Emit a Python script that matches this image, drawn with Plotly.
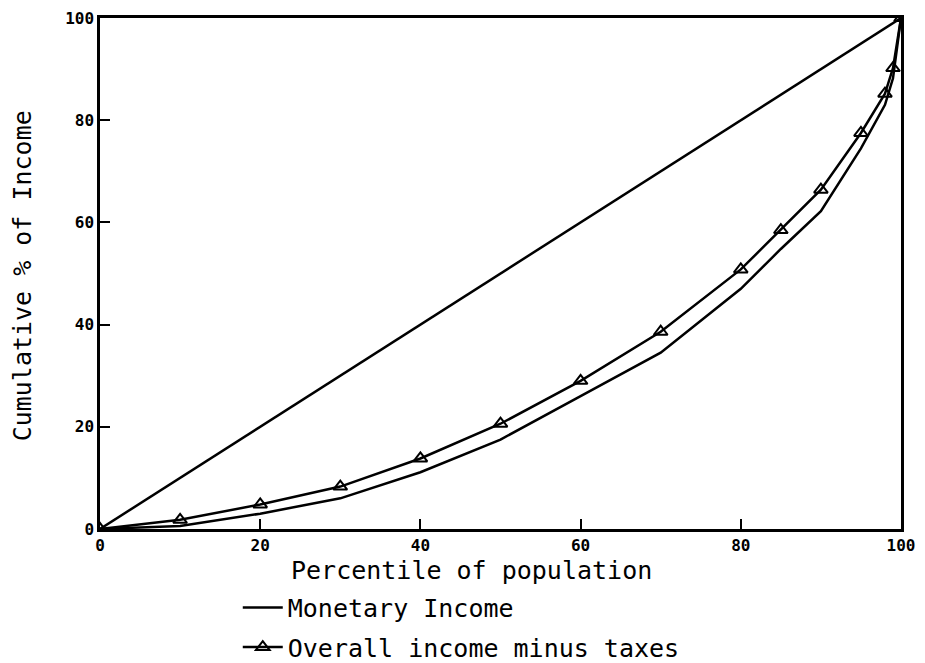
import plotly.graph_objects as go

percentile = [0, 10, 20, 30, 40, 50, 60, 70, 80, 85, 90, 95, 98, 99, 100]
monetary_income = [0, 0.6, 3.0, 6.0, 11.1, 17.5, 26.0, 34.5, 47.0, 54.8, 62.2, 74.5, 83.0, 88.2, 100]
overall_minus_taxes = [0, 1.8, 4.8, 8.3, 13.8, 20.6, 29.0, 38.6, 50.8, 58.5, 66.4, 77.5, 85.2, 90.2, 100]
equality_x = [0, 100]
equality_y = [0, 100]
tick_vals = [0, 20, 40, 60, 80, 100]

FONT = "DejaVu Sans Mono"

fig = go.Figure()
fig.add_trace(go.Scatter(x=equality_x, y=equality_y, mode="lines",
                         line=dict(color="black", width=2.5), showlegend=False))
fig.add_trace(go.Scatter(x=percentile, y=monetary_income, mode="lines",
                         name="Monetary Income", legendgroup="a",
                         line=dict(color="black", width=2.5)))
fig.add_trace(go.Scatter(x=percentile, y=overall_minus_taxes, mode="lines+markers",
                         name="Overall income minus taxes", legendgroup="b",
                         line=dict(color="black", width=2.5),
                         marker=dict(symbol="triangle-up-open", size=12,
                                     color="black", line=dict(width=2, color="black"))))

axis_common = dict(
    range=[0, 100], tickvals=tick_vals, ticks="inside", ticklen=10, tickwidth=2,
    tickcolor="black", showline=True, linecolor="black", linewidth=2.5,
    mirror=True, showgrid=False, zeroline=False, automargin=False,
    ticklabeloverflow="allow",
    tickfont=dict(family=FONT, size=16, color="black", weight="bold"),
)

fig.update_layout(
    width=917, height=671,
    margin=dict(l=92, r=24, t=10, b=149),
    paper_bgcolor="white", plot_bgcolor="white",
    font=dict(family=FONT, color="black"),
    xaxis=dict(**axis_common),
    yaxis=dict(**axis_common),
    legend=dict(x=0.172, y=-0.107, xanchor="left", yanchor="top",
                orientation="v", traceorder="grouped", tracegroupgap=4,
                itemwidth=40,
                font=dict(family=FONT, size=25, color="black"),
                bgcolor="rgba(0,0,0,0)"),
    annotations=[
        dict(text="Percentile of population", xref="paper", yref="paper",
             x=0.464, y=-0.082, xanchor="center", yanchor="middle", showarrow=False,
             font=dict(family=FONT, size=25, color="black")),
        dict(text="Cumulative % of Income", xref="paper", yref="paper",
             x=-0.097, y=0.495, xanchor="center", yanchor="middle", showarrow=False,
             textangle=-90, font=dict(family=FONT, size=25, color="black")),
    ],
)

fig.write_html("out.html")
